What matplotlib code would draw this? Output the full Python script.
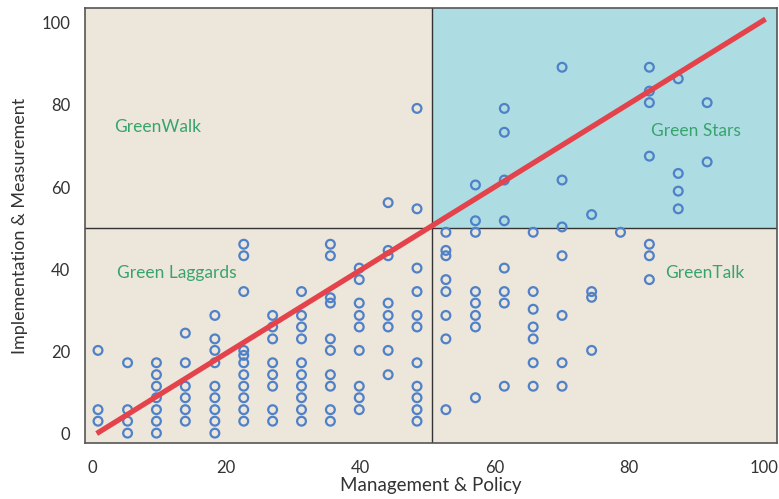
import matplotlib
matplotlib.use("Agg")
import matplotlib.pyplot as plt
from matplotlib.patches import Rectangle

# Management & Policy score of each column of points
mgmt_cols = [0.9, 5.3, 9.6, 13.9, 18.3, 22.6, 26.9, 31.2, 35.5, 39.8, 44.1,
             48.4, 52.7, 57.1, 61.4, 65.7, 70.0, 74.4, 78.7, 83.0, 87.3, 91.6]

# Implementation & Measurement scores in each column
impl_by_col = [
    [20.3, 5.9, 3.1],
    [17.3, 5.9, 3.1, 0.2],
    [17.3, 14.4, 11.6, 8.8, 5.9, 3.1, 0.2],
    [24.5, 17.3, 11.6, 8.8, 5.9, 3.1],
    [28.8, 23.1, 20.3, 17.3, 11.6, 8.8, 5.9, 3.1, 0.2],
    [46.1, 43.3, 34.6, 20.3, 19.1, 17.3, 14.4, 11.6, 8.8, 5.9, 3.1],
    [28.8, 26.0, 23.1, 17.3, 14.4, 11.6, 5.9, 3.1],
    [34.6, 28.8, 26.0, 23.1, 17.3, 14.4, 11.6, 8.8, 5.9, 3.1],
    [46.1, 43.3, 33.1, 31.8, 23.1, 20.3, 14.4, 11.6, 5.9, 3.1],
    [40.3, 37.5, 31.8, 28.8, 26.0, 20.3, 11.6, 8.8, 5.9],
    [56.2, 44.6, 43.3, 31.8, 28.8, 26.0, 20.3, 14.4],
    [79.1, 54.7, 40.3, 34.6, 28.8, 26.0, 17.3, 11.6, 8.8, 5.9, 3.1],
    [49.0, 44.6, 43.3, 37.5, 34.6, 28.8, 23.1, 5.9],
    [60.5, 51.8, 49.0, 34.6, 31.8, 28.8, 26.0, 8.8],
    [79.1, 73.3, 61.7, 51.8, 40.3, 34.6, 31.8, 11.6],
    [49.0, 34.6, 30.3, 26.0, 23.1, 17.3, 11.6],
    [89.1, 61.7, 50.3, 43.3, 28.8, 17.3, 11.6],
    [53.3, 34.6, 33.2, 20.3],
    [49.0],
    [89.1, 83.3, 80.5, 67.5, 46.1, 43.3, 37.5],
    [86.3, 63.3, 59.0, 54.7],
    [80.5, 66.1],
]

# trend line
fit_x = [0.7, 100.3]
fit_y = [0.1, 100.8]

# quadrant split
split_x = 50.7
split_y = 50.0

quad_labels = ["GreenWalk", "Green Stars", "Green Laggards", "GreenTalk"]
quad_pos = [(9.8, 74.6), (89.9, 73.6), (12.7, 39.0), (91.2, 39.0)]

xs, ys = [], []
for x, col in zip(mgmt_cols, impl_by_col):
    for y in col:
        xs.append(x)
        ys.append(y)

plt.rcParams['font.family'] = ['Lato', 'DejaVu Sans']

fig = plt.figure(figsize=(7.79, 4.99), dpi=100)
ax = fig.add_axes([0.1091, 0.1122, 0.8883, 0.8718])
xmin, xmax = -1.04, 102.0
ymin, ymax = -2.2, 103.5
ax.set_xlim(xmin, xmax)
ax.set_ylim(ymin, ymax)
ax.set_facecolor('#ede6da')

ax.add_patch(Rectangle((split_x, split_y), xmax - split_x, ymax - split_y,
                       facecolor='#addce2', edgecolor='none', zorder=0))
ax.axvline(split_x, color='#333333', lw=1.0, zorder=1)
ax.axhline(split_y, color='#333333', lw=1.0, zorder=1)

ax.scatter(xs, ys, s=40, facecolors='none', edgecolors='#4f81c9',
           linewidths=1.6, zorder=3)
ax.plot(fit_x, fit_y, color='#e4434b', lw=3.8, solid_capstyle='butt', zorder=4)

for lab, (tx, ty) in zip(quad_labels, quad_pos):
    ax.text(tx, ty, lab, color='#38a46c', fontsize=12.5, ha='center', va='center', zorder=5)

ax.set_xticks([0, 20, 40, 60, 80, 100])
ax.set_yticks([0, 20, 40, 60, 80, 100])
ax.tick_params(length=0, labelsize=12, colors='#333333', pad=12)
ax.tick_params(axis='y', pad=10.5)
for sp in ax.spines.values():
    sp.set_color('#555555')
    sp.set_linewidth(1.2)

ax.set_xlabel("Management & Policy", fontsize=13.5, color='#333333', labelpad=1)
ax.set_ylabel("Implementation & Measurement", fontsize=13, color='#333333', labelpad=10)

fig.savefig("out.png", dpi=100)
